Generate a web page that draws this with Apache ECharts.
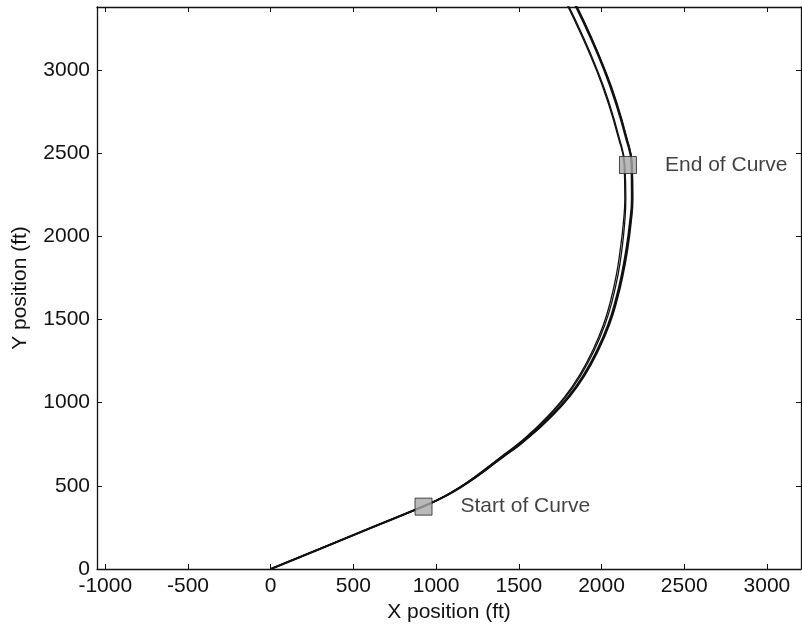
<!DOCTYPE html>
<html>
<head>
<meta charset="utf-8">
<script src="https://cdn.jsdelivr.net/npm/echarts@6/dist/echarts.min.js"></script>
<style>
html,body{margin:0;padding:0;background:#fff;}
#chart{width:802px;height:629px;}
</style>
</head>
<body>
<div id="chart"></div>
<script>
// Tick values
var xTicks = [-1000, -500, 0, 500, 1000, 1500, 2000, 2500, 3000];
var yTicks = [0, 500, 1000, 1500, 2000, 2500, 3000];

// Trajectories [x ft, y ft]
var trackA = [[0,0],[300,122],[600,245],[922,377],[1008,416],[1097,464],[1196,527],[1300,604],[1393,675],[1486,745],[1575,822],[1657,900],[1776,1033],[1864,1160],[1948,1317],[2012,1470],[2056,1618],[2090,1770],[2113,1919],[2132,2080],[2141,2230],[2137,2430],[2100,2600],[2036,2815],[1969,3000],[1883,3200],[1788,3400]];
var trackB = [[0,0],[300,122],[600,245],[924,377],[1009,416],[1099,464],[1198,527],[1304,604],[1397,675],[1491,745],[1580,822],[1663,900],[1783,1033],[1872,1160],[1957,1317],[2021,1470],[2066,1618],[2100,1770],[2123,1919],[2140,2080],[2147,2230],[2141,2430],[2105,2600],[2042,2815],[1974,3000],[1889,3200],[1794,3400]];
var trackC = [[0,0],[300,122],[600,245],[925,377],[1011,416],[1102,464],[1202,527],[1309,604],[1403,675],[1499,745],[1590,822],[1675,900],[1798,1033],[1889,1160],[1975,1317],[2041,1470],[2087,1618],[2123,1770],[2150,1919],[2172,2080],[2184,2230],[2182,2430],[2146,2600],[2083,2815],[2017,3000],[1932,3200],[1837,3400]];
var trackD = [[0,0],[300,122],[600,245],[926,377],[1012,416],[1103,464],[1204,527],[1312,604],[1407,675],[1504,745],[1595,822],[1681,900],[1804,1033],[1896,1160],[1982,1317],[2048,1470],[2094,1618],[2130,1770],[2157,1919],[2178,2080],[2189,2230],[2185,2430],[2150,2600],[2088,2815],[2021,3000],[1937,3200],[1842,3400]];

// Curve markers
var markerPoints = [[924, 375], [2160, 2429]];
var markerLabels = ['Start of Curve', 'End of Curve'];

var FONT = 'Liberation Sans, Arial, Helvetica, sans-serif';
var TXT = '#111';

function lineSeries(data, w) {
  return {
    type: 'line', data: data, showSymbol: false, smooth: 0.5,
    lineStyle: {color: '#111', width: w}, silent: true, z: 2
  };
}

function plain(v) { return String(v); }

function axisLine() {
  return {show: true, onZero: false, lineStyle: {color: '#111', width: 1.3}};
}
function ticks(vals) {
  return {show: true, inside: true, length: 5, customValues: vals, lineStyle: {color: '#111', width: 1}};
}

var chart = echarts.init(document.getElementById('chart'), null, {renderer: 'canvas'});
chart.setOption({
  animation: false,
  backgroundColor: '#fff',
  grid: {left: 97, top: 7, right: 1, bottom: 60, containLabel: false},
  xAxis: [
    {
      type: 'value', min: -1050, max: 3206, position: 'bottom',
      axisLine: axisLine(), axisTick: ticks(xTicks), splitLine: {show: false},
      axisLabel: {customValues: xTicks, formatter: plain, fontSize: 21, color: TXT, fontFamily: FONT, margin: 7},
      name: 'X position (ft)', nameLocation: 'middle', nameGap: 32,
      nameTextStyle: {fontSize: 21, color: TXT, fontFamily: FONT}
    },
    {
      type: 'value', min: -1050, max: 3206, position: 'top',
      axisLine: axisLine(), axisTick: ticks(xTicks), splitLine: {show: false},
      axisLabel: {show: false}
    }
  ],
  yAxis: [
    {
      type: 'value', min: 0, max: 3379, position: 'left',
      axisLine: axisLine(), axisTick: ticks(yTicks), splitLine: {show: false},
      axisLabel: {customValues: yTicks, formatter: plain, fontSize: 21, color: TXT, fontFamily: FONT, margin: 7},
      name: 'Y position (ft)', nameLocation: 'middle', nameGap: 66,
      nameTextStyle: {fontSize: 21, color: TXT, fontFamily: FONT}
    },
    {
      type: 'value', min: 0, max: 3379, position: 'right',
      axisLine: axisLine(), axisTick: ticks(yTicks), splitLine: {show: false},
      axisLabel: {show: false}
    }
  ],
  series: [
    lineSeries(trackA, 1.3),
    lineSeries(trackB, 1.3),
    lineSeries(trackC, 2.2),
    lineSeries(trackD, 1.6),
    {
      type: 'scatter', z: 5, silent: true,
      symbol: 'rect', symbolSize: 17,
      itemStyle: {color: '#a8a8a8', borderColor: '#222', borderWidth: 1},
      data: markerPoints.map(function (p, i) {
        return {value: p, name: markerLabels[i]};
      }),
      label: {
        show: true, position: 'right', distance: 28,
        formatter: function (p) { return p.name; },
        fontSize: 21, color: TXT, fontFamily: FONT
      }
    }
  ]
});
</script>
</body>
</html>
